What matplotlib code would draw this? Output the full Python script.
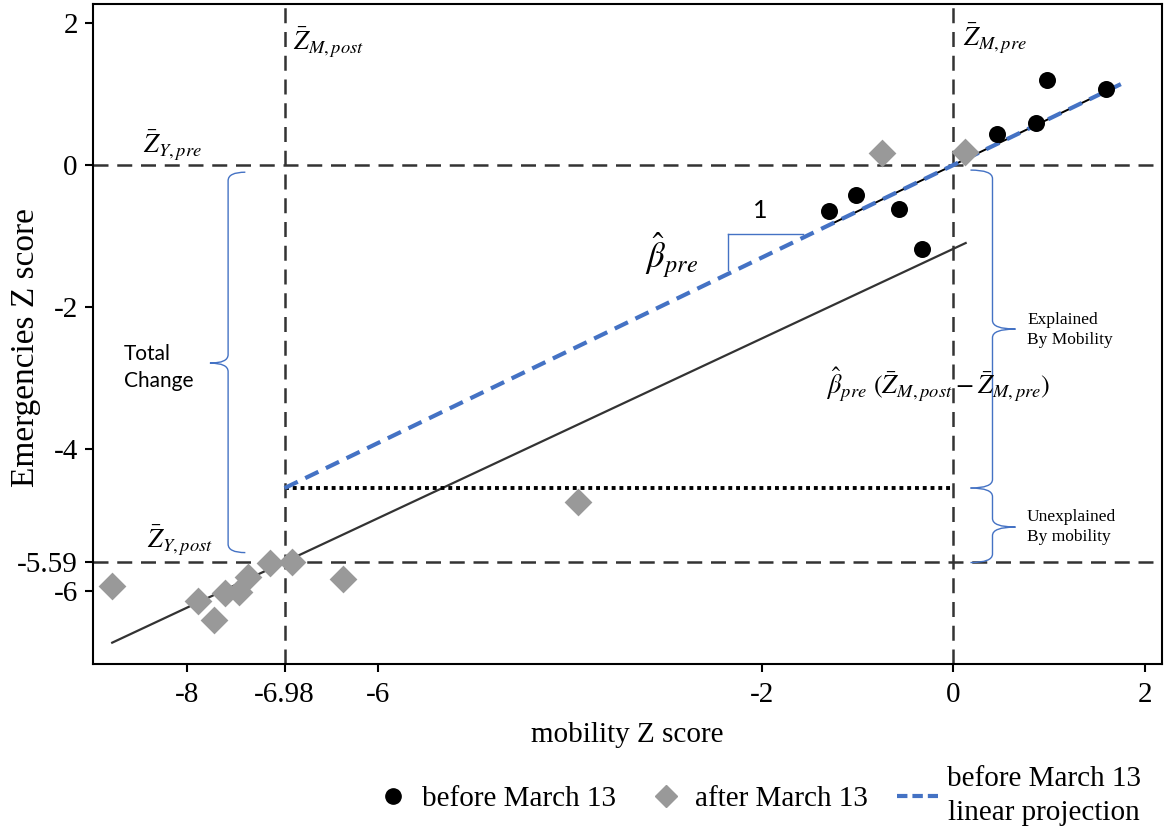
import numpy as np
import matplotlib.pyplot as plt
from matplotlib.path import Path
from matplotlib.patches import PathPatch
from matplotlib.lines import Line2D

# data
pre_x = [-1.30, -1.02, -0.57, -0.33, 0.46, 0.86, 0.98, 1.60]
pre_y = [-0.65, -0.42, -0.62, -1.18, 0.44, 0.59, 1.20, 1.07]
post_x = [-8.78, -7.88, -7.72, -7.60, -7.46, -7.36, -7.13, -6.90, -6.37, -3.92, -0.74, 0.12]
post_y = [-5.93, -6.14, -6.41, -6.03, -6.01, -5.80, -5.61, -5.59, -5.83, -4.75, 0.17, 0.19]

z_m_pre, z_y_pre = 0.0, 0.0
z_m_post, z_y_post = -6.98, -5.59
beta_pre = 0.652
post_slope, post_icpt = 0.632, -1.18

xticks = [-8, -6.98, -6, -2, 0, 2]
xticklabels = ["-8", "-6.98", "-6", "-2", "0", "2"]
yticks = [2, 0, -2, -4, -5.59, -6]
yticklabels = ["2", "0", "-2", "-4", "-5.59", "-6"]

BLUE = "#4472C4"
DARK = "#333333"
plt.rcParams['mathtext.fontset'] = 'stix'
serif = "Liberation Serif"


def brace(ax, x, y0, y1, ym, tip, hook, r=0.12):
    # curly brace: vertical at x, tip pointing to x+tip at ym, end hooks to x+hook
    verts = [(x + hook, y1), (x, y1), (x, y1 - r),
             (x, ym + r), (x, ym), (x + tip, ym),
             (x, ym), (x, ym - r),
             (x, y0 + r), (x, y0), (x + hook, y0)]
    codes = [Path.MOVETO, Path.CURVE3, Path.CURVE3,
             Path.LINETO, Path.CURVE3, Path.CURVE3,
             Path.CURVE3, Path.CURVE3,
             Path.LINETO, Path.CURVE3, Path.CURVE3]
    ax.add_patch(PathPatch(Path(verts, codes), fc="none", ec=BLUE, lw=1.0))


fig = plt.figure(figsize=(11.66, 8.34), dpi=100)
ax = fig.add_axes([0.0798, 0.2038, 0.9168, 0.7914])

# reference lines
dash = (0, (6, 3.5))
ax.axvline(z_m_post, color=DARK, lw=1.8, ls=dash, zorder=1)
ax.axvline(z_m_pre, color=DARK, lw=1.8, ls=dash, zorder=1)
ax.axhline(z_y_pre, color=DARK, lw=1.8, ls=dash, zorder=1)
ax.axhline(z_y_post, color=DARK, lw=1.8, ls=dash, zorder=1)

# post fit
fx = np.array([min(post_x), 0.13])
ax.plot(fx, post_slope * fx + post_icpt, color=DARK, lw=1.6, zorder=2)

# pre fit
px = np.array([min(pre_x), max(pre_x)])
ax.plot(px, beta_pre * px, color="black", lw=1.4, zorder=2)

# projection
jx = np.array([z_m_post, 1.75])
ax.plot(jx, beta_pre * jx, color=BLUE, lw=3.0, ls=(0, (3.5, 2)), zorder=3)

# unexplained level
ax.plot([z_m_post, z_m_pre], [beta_pre * z_m_post] * 2, color="black",
        lw=2.8, ls=(0, (1, 1)), zorder=2)

ax.scatter(pre_x, pre_y, s=150, color="black", marker="o", zorder=4, lw=0)
ax.scatter(post_x, post_y, s=200, color="#999999", marker="D", zorder=4, lw=0)

# slope triangle
ax.plot([-2.35, -1.57], [-0.97, -0.97], color=BLUE, lw=1.0)
ax.plot([-2.35, -2.35], [-0.97, -1.48], color=BLUE, lw=1.0)

# braces
brace(ax, -7.57, -5.46, -0.10, -2.79, -0.19, 0.18)
brace(ax, 0.41, -4.55, -0.07, -2.31, 0.24, -0.23)
brace(ax, 0.41, -5.60, -4.55, -5.10, 0.24, -0.23)

mt = 19
ax.text(-6.89, 1.73, r"$\bar{Z}_{M,post}$", fontsize=mt, va="center")
ax.text(0.10, 1.79, r"$\bar{Z}_{M,pre}$", fontsize=mt, va="center")
ax.text(-8.46, 0.28, r"$\bar{Z}_{Y,pre}$", fontsize=mt, va="center")
ax.text(-8.42, -5.28, r"$\bar{Z}_{Y,post}$", fontsize=mt, va="center")
ax.text(-3.22, -1.27, r"$\hat{\beta}_{pre}$", fontsize=25, va="center")
ax.text(-2.01, -0.64, "1", fontsize=18, va="center", ha="center", family="Lato")
ax.text(-1.33, -3.10, r"$\hat{\beta}_{pre}\ (\bar{Z}_{M,post}-\bar{Z}_{M,pre})$",
        fontsize=mt, va="center")
ax.text(-8.66, -2.85, "Total\nChange", fontsize=15, va="center", family="Lato",
        linespacing=1.4)
ax.text(0.77, -2.32, "Explained\nBy Mobility", fontsize=12.5, va="center",
        family=serif, linespacing=1.3)
ax.text(0.77, -5.10, "Unexplained\nBy mobility", fontsize=12.5, va="center",
        family=serif, linespacing=1.3)

ax.set_xlim(-8.98, 2.18)
ax.set_ylim(-7.03, 2.27)
ax.set_xticks(xticks)
ax.set_xticklabels(xticklabels, family=serif, fontsize=21)
ax.set_yticks(yticks)
ax.set_yticklabels(yticklabels, family=serif, fontsize=21)
ax.tick_params(length=6, width=1.5, pad=5)
ax.tick_params(axis="x", pad=7)
for s in ax.spines.values():
    s.set_linewidth(1.5)
ax.set_xlabel("mobility Z score", family=serif, fontsize=21, labelpad=10)
ax.set_ylabel("Emergencies Z score", family=serif, fontsize=24)
ax.yaxis.set_label_coords(-0.049, 0.48)

handles = [
    Line2D([], [], marker="o", color="black", ls="none", markersize=11),
    Line2D([], [], marker="D", color="#999999", ls="none", markersize=11),
    Line2D([], [], color=BLUE, lw=3, ls=(0, (2.5, 1.2))),
]
labels = ["before March 13", "after March 13", "before March 13\nlinear projection"]
leg = fig.legend(handles, labels, loc="center", bbox_to_anchor=(0.649, 0.045), ncol=3,
                 frameon=False, prop={"family": serif, "size": 21}, handlelength=1.4,
                 handletextpad=0.3, columnspacing=1.0)
for t in leg.get_texts():
    t.set_multialignment("center")
    t.set_linespacing(1.4)

fig.savefig("out.png", dpi=100)
